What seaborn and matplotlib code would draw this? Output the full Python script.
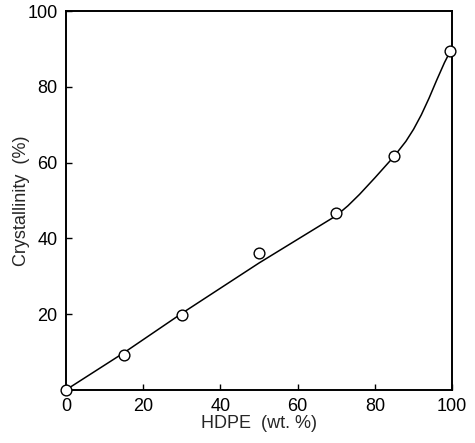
import matplotlib
matplotlib.use("Agg")
import matplotlib.pyplot as plt
import seaborn as sns
import pandas as pd

# measured data points
hdpe = [0, 15, 30, 50, 70, 85, 99.5]
crystallinity = [0, 9.2, 19.8, 36.0, 46.6, 61.7, 89.4]

# smooth guide curve
curve_x = [0, 15, 30, 50, 70, 73, 76, 80, 85, 88, 90, 92, 94, 96, 98, 99.5]
curve_y = [0, 9.8, 20.2, 33.5, 46.0, 48.6, 51.6, 56.0, 61.7, 65.6, 68.8, 72.6, 77.0, 81.8, 86.4, 89.4]

x_ticks = [0, 20, 40, 60, 80, 100]
y_ticks = [20, 40, 60, 80, 100]

sns.set_style("ticks")
plt.rcParams['font.family'] = ['Liberation Sans', 'DejaVu Sans']

fig = plt.figure(figsize=(4.75, 4.43), dpi=100)
ax = fig.add_axes([0.139, 0.120, 0.813, 0.855])

df_curve = pd.DataFrame({"x": curve_x, "y": curve_y})
df_pts = pd.DataFrame({"x": hdpe, "y": crystallinity})

sns.lineplot(data=df_curve, x="x", y="y", ax=ax, color="black", linewidth=1.1,
             sort=True, estimator=None)
sns.scatterplot(data=df_pts, x="x", y="y", ax=ax, s=60, marker="o",
                facecolor="white", edgecolor="black", linewidth=1.0, zorder=5,
                clip_on=False)

ax.set_xlim(0, 100)
ax.set_ylim(0, 100)
ax.set_xticks(x_ticks)
ax.set_yticks(y_ticks)
ax.tick_params(direction="in", length=4, width=1.0, labelsize=13, colors="black",
               top=False, right=False, pad=6)
for sp in ax.spines.values():
    sp.set_visible(True)
    sp.set_linewidth(1.4)
    sp.set_color("black")

ax.set_xlabel("HDPE  (wt. %)", fontsize=13, labelpad=0)
ax.set_ylabel("Crystallinity  (%)", fontsize=13, labelpad=-2)

fig.savefig("out.png", dpi=100, facecolor="white")
